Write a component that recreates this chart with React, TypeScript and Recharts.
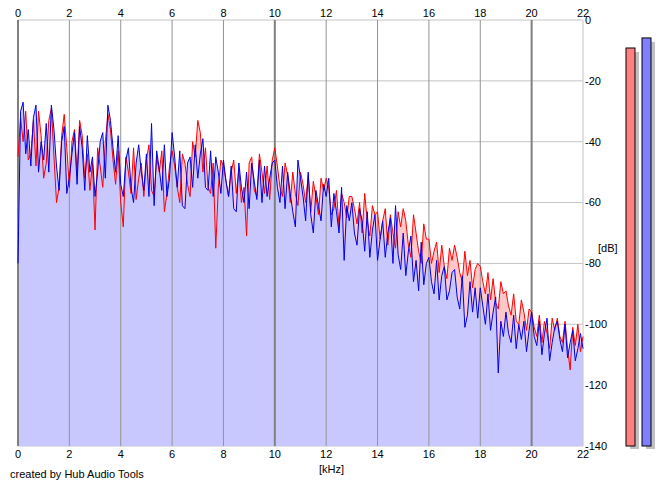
import React from 'react';
import {
  ComposedChart,
  BarChart,
  Area,
  Line,
  Bar,
  XAxis,
  YAxis,
  CartesianGrid,
  ReferenceLine,
} from 'recharts';

// spectrum values in dB, one per 0.1 kHz from 0 to 22 kHz
const leftDb = [
  -45, -32, -40, -30, -46, -44, -33, -48, -30, -38,
  -52, -47, -33, -29, -45, -60, -55, -38, -31, -42,
  -55, -40, -36, -50, -33, -38, -52, -44, -56, -47,
  -69, -42, -48, -55, -40, -31, -36, -46, -54, -43,
  -60, -68, -45, -50, -57, -42, -59, -52, -47, -58,
  -46, -41, -56, -58, -45, -50, -43, -63, -57, -48,
  -43, -48, -55, -60, -44, -47, -54, -58, -40, -45,
  -33, -37, -50, -42, -55, -57, -47, -75, -55, -46,
  -48, -53, -58, -50, -46, -57, -49, -60, -55, -71,
  -47, -45, -56, -58, -44, -50, -57, -48, -59, -46,
  -42, -48, -55, -58, -47, -51, -60, -50, -57, -61,
  -50, -54, -60, -51, -63, -53, -58, -64, -52, -56,
  -52, -55, -64, -62, -56, -68, -57, -60, -65, -58,
  -58, -62, -67, -60, -70, -57, -66, -71, -61, -64,
  -63, -72, -66, -62, -74, -64, -70, -75, -63, -68,
  -62, -66, -74, -78, -64, -70, -76, -80, -67, -72,
  -72, -80, -76, -73, -83, -74, -81, -85, -75, -79,
  -74, -78, -83, -86, -76, -84, -79, -88, -82, -80,
  -81, -86, -90, -83, -92, -85, -93, -95, -86, -90,
  -89, -94, -97, -90, -99, -100, -92, -96, -102, -95,
  -96, -101, -104, -97, -106, -99, -103, -108, -98, -102,
  -98, -104, -106, -99, -108, -115, -101, -107, -100, -109,
  -104,
];

const rightDb = [
  -80, -30, -27, -44, -36, -48, -32, -28, -50, -40,
  -46, -34, -50, -28, -36, -48, -56, -40, -35, -57,
  -52, -44, -37, -54, -35, -42, -56, -38, -50, -45,
  -58, -50, -40, -37, -52, -28, -33, -42, -50, -38,
  -54, -58, -46, -42, -55, -60, -47, -41, -50, -56,
  -44, -58, -34, -61, -43, -49, -56, -41, -58, -52,
  -37, -45, -55, -43, -61, -62, -47, -45, -55, -41,
  -52, -44, -39, -55, -56, -43, -58, -45, -50, -57,
  -46, -53, -58, -48, -62, -63, -47, -55, -60, -50,
  -62, -47, -53, -59, -46, -60, -48, -58, -52, -47,
  -46, -55, -60, -48, -62, -50, -57, -63, -68, -46,
  -52, -58, -66, -50, -64, -70, -56, -61, -66, -54,
  -58, -52, -68, -57, -63, -70, -55, -79, -61, -66,
  -60, -70, -74, -62, -66, -76, -63, -78, -69, -64,
  -79, -72, -66, -78, -70, -65, -80, -61, -77, -82,
  -70, -84, -76, -71, -86, -79, -89, -73, -87, -80,
  -78, -86, -90, -79, -92, -84, -81, -92, -89, -83,
  -82, -91, -95, -84, -101, -97, -86, -96, -88, -98,
  -88, -94, -100, -90, -102, -96, -91, -116, -99, -104,
  -96, -103, -106, -97, -108, -100, -105, -99, -109, -102,
  -96, -104, -107, -99, -110, -103, -98, -112, -106, -101,
  -99, -105, -109, -100, -111, -106, -102, -112, -108, -103,
  -108,
];

const freqTicks = [0, 2, 4, 6, 8, 10, 12, 14, 16, 18, 20, 22];
const dbTicks = [0, -20, -40, -60, -80, -100, -120, -140];
const levelNames = ['L', 'R'];
const levelDb = [-9.2, -5.9];

const rows = leftDb.map((l, i) => ({ f: i / 10, l, r: rightDb[i] }));
const levels = levelNames.map((ch, i) => ({ ch, v: levelDb[i] }));

const FONT = 'Liberation Sans, Arial, sans-serif';
const tickStyle = { fontSize: 11, fill: '#000', fontFamily: FONT };

function gridColor(v: number) {
  if (v === 22) return '#c4c4c4';
  if (v % 10 === 0) return '#808080';
  return '#939393';
}

function DbTick(props: any) {
  const { x, y, payload } = props;
  return (
    <text x={x} y={Math.max(y, 14)} dy="0.355em" textAnchor="start" {...tickStyle}>
      {payload.value}
    </text>
  );
}

function LevelBar(props: any) {
  const { x, y, width, height, fill } = props;
  return (
    <g>
      <rect x={x + 4} y={y + 4} width={width} height={height - 1} fill="#c0c0c0" />
      <rect x={x} y={y} width={width} height={height} fill={fill} stroke="#000" strokeWidth={1} />
    </g>
  );
}

export default function App() {
  return (
    <div style={{ position: 'fixed', left: 0, top: 0, width: 665, height: 487, background: '#fff' }}>
      <ComposedChart
        width={665}
        height={487}
        data={rows}
        margin={{ top: 0, right: 0, bottom: 0, left: 18 }}
      >
        <CartesianGrid vertical={false} stroke="#c4c4c4" />
        <XAxis
          dataKey="f"
          type="number"
          domain={[0, 22]}
          ticks={freqTicks}
          height={41}
          axisLine={false}
          tickLine={false}
          tickSize={0}
          tickMargin={4}
          tick={tickStyle}
          interval={0}
        />
        <XAxis
          xAxisId="top"
          dataKey="f"
          type="number"
          orientation="top"
          domain={[0, 22]}
          ticks={freqTicks}
          height={20}
          axisLine={false}
          tickLine={false}
          tickSize={0}
          tickMargin={3}
          tick={tickStyle}
          interval={0}
        />
        <YAxis
          orientation="right"
          type="number"
          domain={[-140, 0]}
          ticks={dbTicks}
          width={82}
          axisLine={false}
          tickLine={false}
          tickSize={0}
          tickMargin={2}
          tick={<DbTick />}
          interval={0}
        />
        <Area
          dataKey="l"
          type="linear"
          baseValue="dataMin"
          stroke="none"
          fill="#ffc8c8"
          fillOpacity={1}
          isAnimationActive={false}
        />
        <Area
          dataKey="r"
          type="linear"
          baseValue="dataMin"
          stroke="none"
          fill="#c8c8ff"
          fillOpacity={1}
          isAnimationActive={false}
        />
        {freqTicks.map((v) => (
          <ReferenceLine
            key={v}
            x={v}
            stroke={gridColor(v)}
            strokeWidth={v % 10 === 0 ? 2 : 1}
          />
        ))}
        <Line dataKey="l" type="linear" stroke="#ff0000" strokeWidth={1} dot={false} isAnimationActive={false} />
        <Line dataKey="r" type="linear" stroke="#0000e6" strokeWidth={1} dot={false} isAnimationActive={false} />
      </ComposedChart>

      <div style={{ position: 'absolute', left: 614, top: 0 }}>
        <BarChart
          width={48}
          height={487}
          data={levels}
          margin={{ top: 20, right: 8, bottom: 41, left: 8 }}
          barCategoryGap={3}
        >
          <XAxis dataKey="ch" hide />
          <YAxis hide type="number" domain={[-140, 0]} />
          <Bar
            dataKey={(d: any) => [-140, d.v]}
            barSize={9}
            shape={(p: any) => <LevelBar {...p} fill={p.payload.ch === 'L' ? '#ff8080' : '#8080ff'} />}
            isAnimationActive={false}
          />
        </BarChart>
      </div>

      <div style={{ position: 'absolute', left: 598, top: 242, ...tickStyle, color: '#000' }}>[dB]</div>
      <div style={{ position: 'absolute', left: 319, top: 463, ...tickStyle, color: '#000' }}>[kHz]</div>
      <div style={{ position: 'absolute', left: 10, top: 468, ...tickStyle, color: '#000' }}>
        created by Hub Audio Tools
      </div>
    </div>
  );
}
